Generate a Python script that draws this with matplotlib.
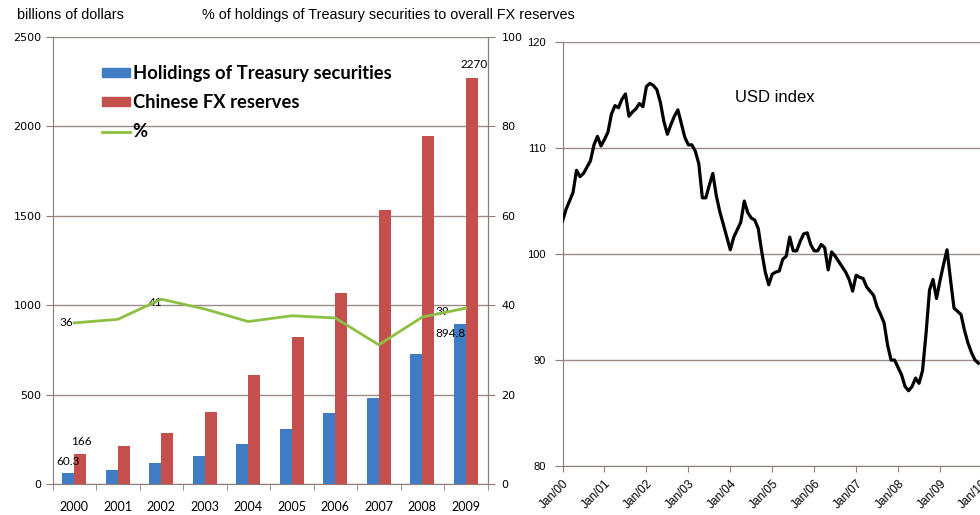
import numpy as np
import matplotlib
matplotlib.use('Agg')
import matplotlib.pyplot as plt
from matplotlib.patches import Patch
from matplotlib.lines import Line2D

# ---------------- data ----------------
years = ['2000', '2001', '2002', '2003', '2004', '2005', '2006', '2007', '2008', '2009']
treasury = [60.3, 78, 118, 159, 223, 310, 397, 478, 727, 894.8]
reserves = [166, 212, 286, 403, 610, 819, 1066, 1528, 1946, 2270]
pct = [36, 36.8, 41.3, 39.1, 36.3, 37.6, 37.1, 31.1, 37.3, 39.3]

# monthly USD index, Jan 2000 - Dec 2009
usd_index = [
    103.1, 104.2, 105.0, 105.8, 107.9, 107.3, 107.6, 108.2, 108.8, 110.3, 111.1, 110.2,
    110.8, 111.5, 113.2, 114.0, 113.8, 114.6, 115.1, 113.0, 113.4, 113.7, 114.2, 113.9,
    115.8, 116.1, 115.9, 115.5, 114.3, 112.5, 111.3, 112.2, 113.0, 113.6, 112.3, 111.0,
    110.3, 110.3, 109.7, 108.5, 105.3, 105.3, 106.5, 107.6, 105.5, 104.0, 102.8, 101.6,
    100.4, 101.6, 102.3, 103.0, 105.0, 103.9, 103.4, 103.2, 102.4, 100.2, 98.3, 97.1,
    98.1, 98.3, 98.4, 99.5, 99.8, 101.6, 100.3, 100.3, 101.2, 101.9, 102.0, 100.9,
    100.3, 100.3, 100.9, 100.6, 98.5, 100.2, 99.8, 99.3, 98.8, 98.3, 97.6, 96.5,
    98.0, 97.8, 97.7, 96.9, 96.5, 96.1, 95.0, 94.3, 93.5, 91.4, 90.0, 90.0,
    89.3, 88.6, 87.5, 87.1, 87.5, 88.3, 87.8, 89.0, 92.5, 96.6, 97.6, 95.8,
    97.5, 99.0, 100.4, 97.6, 94.9, 94.6, 94.3, 92.8, 91.6, 90.7, 90.0, 89.7,
]
usd_ticklabels = ['Jan/00', 'Jan/01', 'Jan/02', 'Jan/03', 'Jan/04', 'Jan/05',
                  'Jan/06', 'Jan/07', 'Jan/08', 'Jan/09', 'Jan/10']

# ---------------- style ----------------
BLUE = '#3f7cc4'
RED = '#c4504e'
GREEN = '#8cc043'
SPINE = '#8c7d77'
GRID = '#9a8c86'
ARIAL = 'Liberation Sans'

fig = plt.figure(figsize=(9.8, 5.15), dpi=100)
fig.patch.set_facecolor('white')

# ---------------- left chart ----------------
ax = fig.add_axes([0.0536, 0.0602, 0.4439, 0.8689])
x = np.arange(len(years))
w = 0.28
ax.bar(x - w / 2, treasury, w, color=BLUE, zorder=3)
ax.bar(x + w / 2, reserves, w, color=RED, zorder=3)
ax.set_xlim(-0.5, len(years) - 0.5)
ax.set_ylim(0, 2500)
ax.set_yticks(np.arange(0, 2501, 500))
ax.grid(axis='y', color=GRID, lw=1.0, zorder=0)
ax.set_axisbelow(True)
ax.set_xticks(x)
ax.set_xticklabels(years, family='Lato', fontsize=9)
ax.set_xticks(np.arange(-0.5, len(years), 1), minor=True)
ax.tick_params(axis='x', which='major', length=0, pad=12)
ax.tick_params(axis='x', which='minor', length=4, color=SPINE, direction='out')
ax.tick_params(axis='y', length=5, color=SPINE, pad=3, labelsize=8)
for lab in ax.get_yticklabels():
    lab.set_family('DejaVu Sans')
for s in ax.spines.values():
    s.set_color(SPINE)
ax.spines['top'].set_visible(False)

ax.annotate('60.3', (x[0] - w / 2, treasury[0]), xytext=(0, 12), textcoords='offset pixels',
            ha='center', va='center', family='Lato', fontsize=8.5, zorder=5)
ax.annotate('166', (x[0] + w / 2, reserves[0]), xytext=(1, 13), textcoords='offset pixels',
            ha='center', va='center', family='Lato', fontsize=8.5, zorder=5)
ax.annotate('2270', (x[9] + w / 2, reserves[9]), xytext=(2, 13), textcoords='offset pixels',
            ha='center', va='center', family='Lato', fontsize=8.5, zorder=5)

ax2 = ax.twinx()
ax2.plot(x, pct, color=GREEN, lw=2, zorder=4)
ax2.set_ylim(0, 100)
ax2.set_yticks(np.arange(0, 101, 20))
ax2.tick_params(axis='y', length=5, color=SPINE, pad=5, labelsize=8)
for s in ax2.spines.values():
    s.set_visible(False)
ax2.spines['right'].set_visible(True)
ax2.spines['right'].set_color(SPINE)

ax2.annotate('36', (x[0], pct[0]), xytext=(-8, 0), textcoords='offset pixels',
             ha='center', va='center', family='Lato', fontsize=8.5)
ax2.annotate('41', (x[2], pct[2]), xytext=(-6, -3), textcoords='offset pixels',
             ha='center', va='center', family='Lato', fontsize=8.5)
ax2.annotate('39', (x[9], pct[9]), xytext=(-23, -3), textcoords='offset pixels',
             ha='center', va='center', family='Lato', fontsize=8.5)
ax2.annotate('894.8', (x[9], pct[9]), xytext=(-15, -25), textcoords='offset pixels',
             ha='center', va='center', family='Lato', fontsize=8.5)

handles = [Patch(color=BLUE), Patch(color=RED), Line2D([], [], color=GREEN, lw=2)]
labels = ['Holidings of Treasury securities', 'Chinese FX reserves', '%']
fig.legend(handles, labels, loc='upper left', bbox_to_anchor=(102 / 980, 1 - 65 / 515),
           frameon=False, prop=dict(family='Lato', weight='bold', size=13.2),
           handlelength=1.55, handleheight=0.4, handletextpad=0.12,
           labelspacing=0.66, borderpad=0, borderaxespad=0)

fig.text(17 / 980, 1 - 15 / 515, 'billions of dollars', family=ARIAL, fontsize=10.4,
         va='center', ha='left')
fig.text(202 / 980, 1 - 15 / 515,
         '% of holdings of Treasury securities to overall FX reserves',
         family=ARIAL, fontsize=10.4, va='center', ha='left')

# ---------------- right chart ----------------
ax3 = fig.add_axes([0.574, 0.0951, 0.428, 0.8233])
months = np.arange(len(usd_index))
ax3.plot(months, usd_index, color='black', lw=2.3, zorder=3)
ax3.set_xlim(0, 120)
ax3.set_ylim(80, 120)
ax3.set_yticks(np.arange(80, 121, 10))
ax3.grid(axis='y', color=GRID, lw=1.0, zorder=0)
ax3.set_axisbelow(True)
ax3.set_xticks(np.arange(0, 121, 12))
ax3.set_xticklabels(usd_ticklabels, rotation=45, ha='right', va='top',
                    rotation_mode='anchor', family=ARIAL, fontsize=8.5)
ax3.tick_params(axis='x', length=4, color=SPINE, pad=4)
ax3.tick_params(axis='y', length=6, color=SPINE, pad=6, labelsize=8)
for lab in ax3.get_yticklabels():
    lab.set_family(ARIAL)
for s in ax3.spines.values():
    s.set_color(SPINE)
ax3.spines['top'].set_visible(False)
ax3.spines['right'].set_visible(False)
ax3.text(0.507, 0.868, 'USD index', transform=ax3.transAxes, ha='center', va='center',
         family=ARIAL, fontsize=12)

fig.savefig('out.png', dpi=100, facecolor='white')
